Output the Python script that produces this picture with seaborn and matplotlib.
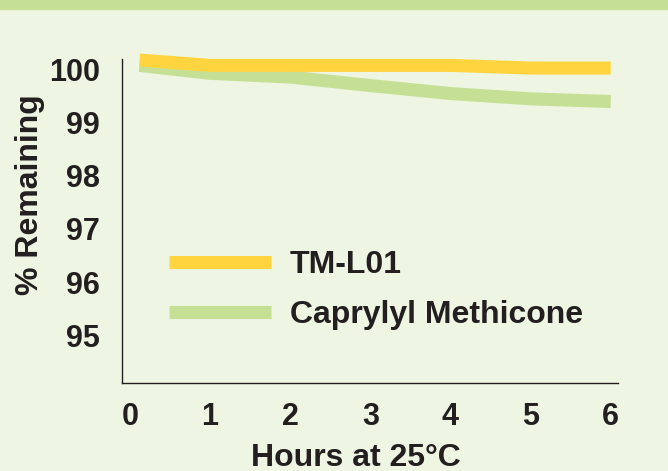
import pandas as pd
import numpy as np
import matplotlib
matplotlib.use('Agg')
import matplotlib.pyplot as plt
import seaborn as sns

hours = [0.12, 1, 2, 3, 4, 5, 6]
tm_l01 = [100.18, 100.08, 100.08, 100.08, 100.08, 100.03, 100.03]
caprylyl = [100.08, 99.93, 99.86, 99.70, 99.55, 99.45, 99.40]
series_names = ['TM-L01', 'Caprylyl Methicone']
x_ticks = [0, 1, 2, 3, 4, 5, 6]
y_ticks = [95, 96, 97, 98, 99, 100]

bg = '#EEF5E2'
yellow = '#FFD43E'
green = '#C5E095'
ink = '#231F20'

sns.set_style('white')
plt.rcParams['font.family'] = ['Liberation Sans', 'DejaVu Sans']
plt.rcParams['font.weight'] = 'bold'

df = pd.DataFrame({
    'hours': hours * 2,
    'pct': tm_l01 + caprylyl,
    'series': [series_names[0]] * len(hours) + [series_names[1]] * len(hours),
})

fig = plt.figure(figsize=(6.68, 4.71), dpi=100, facecolor=bg)
ax = fig.add_axes([0.1826, 0.1868, 0.925 - 0.1826, 0.8747 - 0.1868])
ax.set_facecolor(bg)

# top band
fig.patches.append(plt.Rectangle((0, 1 - 9 / 471), 1, 9 / 471, transform=fig.transFigure,
                                 color=green, zorder=0))

sns.lineplot(data=df[df.series == series_names[1]], x='hours', y='pct', color=green,
             linewidth=9.4, ax=ax, label=series_names[1], solid_capstyle='butt')
sns.lineplot(data=df[df.series == series_names[0]], x='hours', y='pct', color=yellow,
             linewidth=9.4, ax=ax, label=series_names[0], solid_capstyle='butt')
for ln in ax.lines:
    ln.set_clip_on(False)

ax.set_xlim(-0.1, 6.09)
ax.set_ylim(94.1, 100.2)
ax.set_xticks(x_ticks)
ax.set_yticks(y_ticks)
ax.tick_params(length=0, labelsize=22, labelcolor=ink, pad=14)
ax.tick_params(axis='y', pad=16)
for lab in ax.get_xticklabels() + ax.get_yticklabels():
    lab.set_fontweight('bold')

ax.set_xlabel('Hours at 25°C', fontsize=23, fontweight='bold', color=ink, va='baseline')
ax.xaxis.set_label_coords(0.472, -0.256)
ax.set_ylabel('% Remaining', fontsize=23, fontweight='bold', color=ink)
ax.yaxis.set_label_coords(-0.155, 0.58)

for s in ['top', 'right']:
    ax.spines[s].set_visible(False)
for s in ['left', 'bottom']:
    ax.spines[s].set_color(ink)
    ax.spines[s].set_linewidth(1.0)

h, l = ax.get_legend_handles_labels()
leg = ax.legend(h[::-1], l[::-1], loc='upper left', bbox_to_anchor=(0.036, 0.498),
                frameon=False, handlelength=3.2, handletextpad=0.6,
                labelspacing=0.61, prop={'weight': 'bold', 'size': 23})
for t in leg.get_texts():
    t.set_color(ink)

fig.savefig('out.png', dpi=100, facecolor=bg)
